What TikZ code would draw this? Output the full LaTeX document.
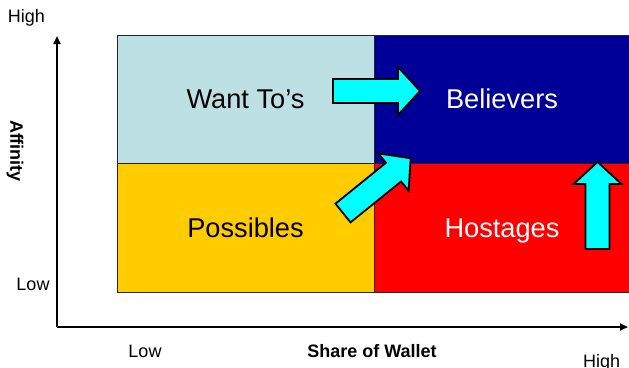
\documentclass[tikz,border=0pt]{standalone}
\usepackage{fontspec}
\setmainfont{Liberation Sans}
\usetikzlibrary{arrows.meta}
\definecolor{wantfill}{RGB}{189,224,228}
\definecolor{believefill}{RGB}{0,0,153}
\definecolor{possiblefill}{RGB}{255,204,0}
\definecolor{hostagefill}{RGB}{255,0,0}
\definecolor{movefill}{RGB}{0,255,255}
\begin{document}
\begin{tikzpicture}[x=1pt,y=-1pt,
  quad/.style={draw=black!85, line width=0.8pt, minimum height=#1,
    inner sep=0pt, text height=19.6pt, text depth=0pt,
    font=\fontsize{27.2}{30}\selectfont},
  leftcol/.style={quad=#1, minimum width=257pt},
  rightcol/.style={quad=#1, minimum width=256pt, text=white},
  axis/.style={line width=2pt, -{Triangle[length=8pt,width=7pt]}},
  small/.style={font=\fontsize{18}{20}\selectfont, inner sep=0pt},
  smallbold/.style={small, font=\fontsize{18}{20}\selectfont\bfseries},
  arrowline/.style={draw=black, line width=1.8pt, fill=movefill, line join=miter},
  blockarrow/.pic={\path[arrowline] (0,-12) -- (65,-12) -- (65,-24) -- (87,0)
      -- (65,24) -- (65,12) -- (0,12) -- cycle;}]
\clip (0,0) rectangle (629,367);

% quadrants
\node[leftcol=128pt, fill=wantfill] (want) at (245.5,99) {Want To’s};
\node[rightcol=128pt, fill=believefill] (believe) at (502,99) {Believers};
\node[leftcol=129pt, fill=possiblefill] (possible) at (245.5,227.5) {Possibles};
\node[rightcol=129pt, fill=hostagefill] (hostage) at (502,227.5) {Hostages};

% movement arrows
\pic (moveA) at (333,91) {blockarrow};
\pic[rotate=39] (moveB) at (343,213) {blockarrow};
\pic[rotate=90] (moveC) at (597.5,249) {blockarrow};

% axes
\coordinate (org) at (57,327);
\coordinate (ytop) at (57,36);
\coordinate (xend) at (628,327);
\draw[axis] (org) -- (ytop);
\draw[axis] (org) -- (xend);

% axis labels
\node[small] (yhigh) at (26.5,18) {High};
\node[small] (ylow) at (33,284) {Low};
\node[smallbold, rotate=-90] (ytitle) at (15,151) {Affinity};
\node[small] (xlow) at (145,351.5) {Low};
\node[smallbold] (xtitle) at (372,351.5) {Share of Wallet};
\node[small, anchor=base west] (xhigh) at (583,367) {High};
\end{tikzpicture}
\end{document}
